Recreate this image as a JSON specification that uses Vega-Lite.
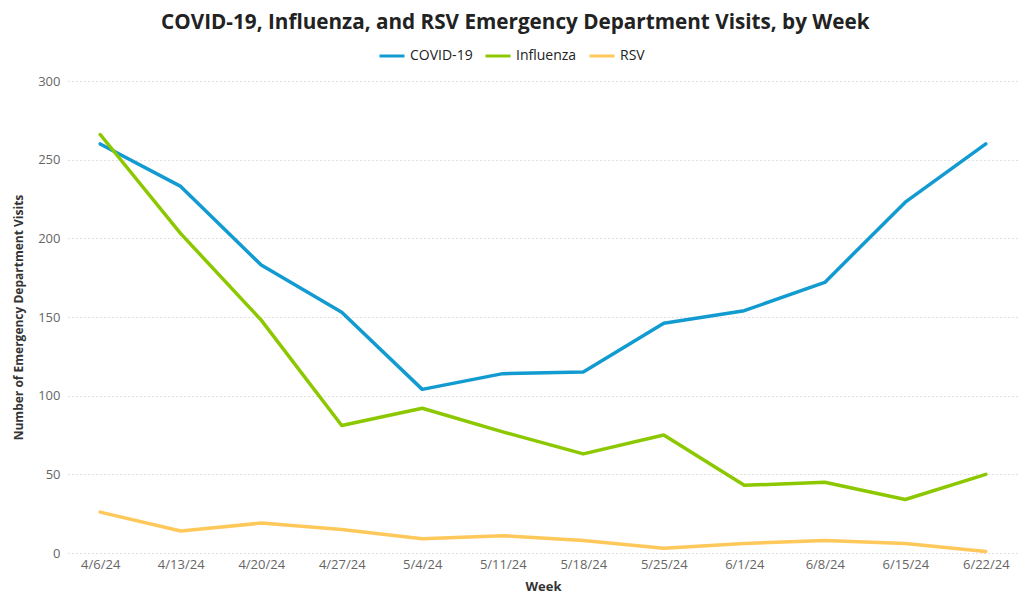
{
  "$schema": "https://vega.github.io/schema/vega-lite/v6.json",
  "autosize": "none",
  "width": 950,
  "height": 472,
  "padding": {"left": 68, "top": 81, "right": 0, "bottom": 47},
  "background": "white",
  "title": {
    "text": "COVID-19, Influenza, and RSV Emergency Department Visits, by Week",
    "font": "Open Sans",
    "fontSize": 20.7,
    "fontWeight": "bold",
    "color": "#222222",
    "anchor": "middle",
    "frame": "bounds",
    "offset": 8
  },
  "data": {
    "values": [
      {"week": "4/6/24", "series": "COVID-19", "visits": 260},
      {"week": "4/13/24", "series": "COVID-19", "visits": 233},
      {"week": "4/20/24", "series": "COVID-19", "visits": 183},
      {"week": "4/27/24", "series": "COVID-19", "visits": 153},
      {"week": "5/4/24", "series": "COVID-19", "visits": 104},
      {"week": "5/11/24", "series": "COVID-19", "visits": 114},
      {"week": "5/18/24", "series": "COVID-19", "visits": 115},
      {"week": "5/25/24", "series": "COVID-19", "visits": 146},
      {"week": "6/1/24", "series": "COVID-19", "visits": 154},
      {"week": "6/8/24", "series": "COVID-19", "visits": 172},
      {"week": "6/15/24", "series": "COVID-19", "visits": 223},
      {"week": "6/22/24", "series": "COVID-19", "visits": 260},
      {"week": "4/6/24", "series": "Influenza", "visits": 266},
      {"week": "4/13/24", "series": "Influenza", "visits": 203},
      {"week": "4/20/24", "series": "Influenza", "visits": 148},
      {"week": "4/27/24", "series": "Influenza", "visits": 81},
      {"week": "5/4/24", "series": "Influenza", "visits": 92},
      {"week": "5/11/24", "series": "Influenza", "visits": 77},
      {"week": "5/18/24", "series": "Influenza", "visits": 63},
      {"week": "5/25/24", "series": "Influenza", "visits": 75},
      {"week": "6/1/24", "series": "Influenza", "visits": 43},
      {"week": "6/8/24", "series": "Influenza", "visits": 45},
      {"week": "6/15/24", "series": "Influenza", "visits": 34},
      {"week": "6/22/24", "series": "Influenza", "visits": 50},
      {"week": "4/6/24", "series": "RSV", "visits": 26},
      {"week": "4/13/24", "series": "RSV", "visits": 14},
      {"week": "4/20/24", "series": "RSV", "visits": 19},
      {"week": "4/27/24", "series": "RSV", "visits": 15},
      {"week": "5/4/24", "series": "RSV", "visits": 9},
      {"week": "5/11/24", "series": "RSV", "visits": 11},
      {"week": "5/18/24", "series": "RSV", "visits": 8},
      {"week": "5/25/24", "series": "RSV", "visits": 3},
      {"week": "6/1/24", "series": "RSV", "visits": 6},
      {"week": "6/8/24", "series": "RSV", "visits": 8},
      {"week": "6/15/24", "series": "RSV", "visits": 6},
      {"week": "6/22/24", "series": "RSV", "visits": 1}
    ]
  },
  "mark": {"type": "line", "strokeWidth": 3.5, "strokeCap": "round", "strokeJoin": "round"},
  "encoding": {
    "x": {
      "field": "week",
      "type": "ordinal",
      "sort": ["4/6/24", "4/13/24", "4/20/24", "4/27/24", "5/4/24", "5/11/24", "5/18/24", "5/25/24", "6/1/24", "6/8/24", "6/15/24", "6/22/24"],
      "scale": {"type": "point", "padding": 0.4},
      "axis": {
        "title": "Week",
        "labelAngle": 0,
        "labelFont": "Open Sans",
        "labelFontSize": 13,
        "labelColor": "#666666",
        "labelPadding": 5,
        "titleFont": "Open Sans",
        "titleFontSize": 13,
        "titleFontWeight": "bold",
        "titleColor": "#333333",
        "titlePadding": 9,
        "domain": false,
        "ticks": false,
        "grid": false
      }
    },
    "y": {
      "field": "visits",
      "type": "quantitative",
      "scale": {"domain": [0, 300], "nice": false},
      "axis": {
        "title": "Number of Emergency Department Visits",
        "values": [0, 50, 100, 150, 200, 250, 300],
        "labelFont": "Open Sans",
        "labelFontSize": 13,
        "labelColor": "#666666",
        "labelPadding": 8,
        "titleFont": "Open Sans",
        "titleFontSize": 12,
        "titleFontWeight": "bold",
        "titleColor": "#333333",
        "titlePadding": 12,
        "domain": false,
        "ticks": false,
        "grid": true,
        "gridColor": "#c0c0c0",
        "gridDash": [1, 3],
        "gridWidth": 1
      }
    },
    "color": {
      "field": "series",
      "type": "nominal",
      "scale": {"domain": ["COVID-19", "Influenza", "RSV"], "range": ["#129bd1", "#8cc800", "#ffc85a"]},
      "legend": {
        "title": null,
        "orient": "none",
        "legendX": 310,
        "legendY": -39,
        "direction": "horizontal",
        "symbolType": "stroke",
        "symbolStrokeWidth": 3,
        "symbolSize": 625,
        "labelFont": "Open Sans",
        "labelFontSize": 14,
        "labelColor": "#222222",
        "columnPadding": 6
      }
    }
  },
  "config": {
    "view": {"stroke": null}
  }
}
